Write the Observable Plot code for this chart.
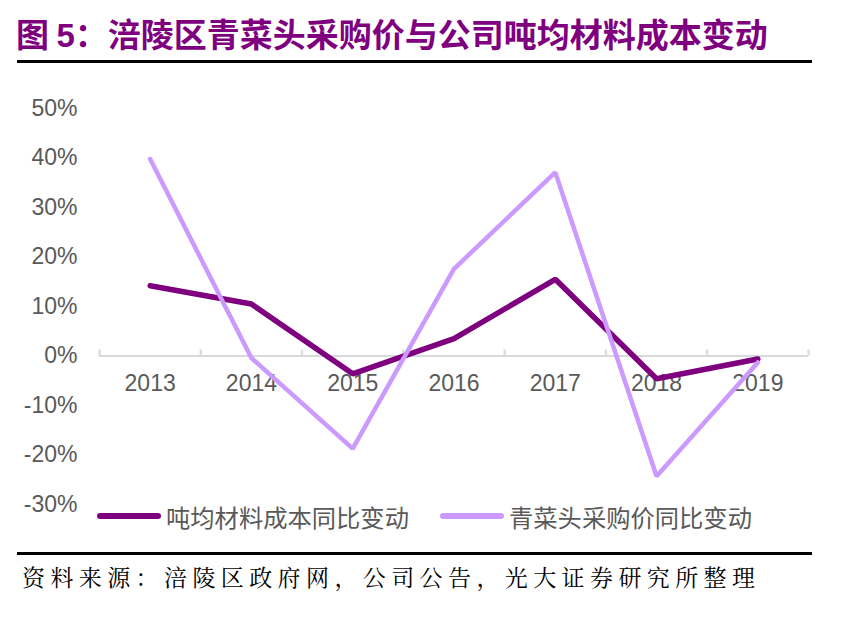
<!DOCTYPE html>
<html>
<head>
<meta charset="utf-8">
<script src="https://cdn.jsdelivr.net/npm/d3@7"></script>
<script src="https://cdn.jsdelivr.net/npm/@observablehq/plot@0.6"></script>
<style>
  html, body { margin: 0; padding: 0; background: #fff; }
  #page { position: relative; width: 841px; height: 617px; overflow: hidden; }
  #title { position: absolute; left: 16px; top: 12px; font-family: "Noto Sans CJK SC", sans-serif; font-weight: 700; font-size: 33px; line-height: 42px; color: #7F007F; white-space: nowrap; }
  #title .num { font-family: "Liberation Sans", Arial, sans-serif; font-weight: 700; }
  .hr { position: absolute; left: 17px; width: 795px; height: 2.5px; background: #000; }
  #chart { position: absolute; left: 0; top: 70px; }
  #legend { position: absolute; left: 0; top: 501px; width: 841px; height: 30px; font-family: "Noto Sans CJK SC", sans-serif; font-size: 24.3px; color: #595959; }
  .item { position: absolute; top: 0; height: 30px; display: flex; align-items: center; white-space: nowrap; }
  .sw { display: inline-block; width: 64px; height: 6px; border-radius: 3px; margin-right: 5px; }
  #caption { position: absolute; left: 22px; top: 562px; font-family: "Noto Serif CJK SC", "Noto Sans CJK SC", serif; font-size: 23px; letter-spacing: 5.4px; color: #000; white-space: nowrap; line-height: 30px; }
</style>
</head>
<body>
<div id="page">
  <div id="title">图 <span class="num">5</span>：涪陵区青菜头采购价与公司吨均材料成本变动</div>
  <div class="hr" style="top:60px"></div>
  <div id="chart"></div>
  <div id="legend"></div>
  <div class="hr" style="top:552px"></div>
  <div id="caption">资料来源：涪陵区政府网，公司公告，光大证券研究所整理</div>
</div>
<script>
// Data
const years = ["2013", "2014", "2015", "2016", "2017", "2018", "2019"];
const costChange = [14.2, 10.5, -3.6, 3.5, 15.5, -4.6, -0.6];      // 吨均材料成本同比变动 (%)
const priceChange = [39.8, -0.4, -18.7, 17.6, 37.1, -24.3, -1.3];  // 青菜头采购价同比变动 (%)
const yTicks = [-30, -20, -10, 0, 10, 20, 30, 40, 50];
const seriesNames = ["吨均材料成本同比变动", "青菜头采购价同比变动"];
const seriesColors = ["#7F007F", "#CC99FF"];

const idx = years.map((_, i) => i);
const bounds = d3.range(years.length + 1).map(i => i - 0.5);

const plot = Plot.plot({
  width: 841,
  height: 470,
  marginLeft: 99,
  marginRight: 33,
  marginTop: 38,
  marginBottom: 36,
  style: { fontFamily: "'Liberation Sans', Arial, sans-serif", color: "#595959", background: "transparent", overflow: "visible" },
  x: { type: "linear", domain: [-0.5, years.length - 0.5], axis: null },
  y: { domain: [-30, 50], axis: null },
  marks: [
    Plot.axisY({ ticks: yTicks, tickFormat: d => d + "%", tickSize: 0, tickPadding: 22, fontSize: 23, fill: "#595959" }),
    Plot.ruleY([0], { stroke: "#D9D9D9", strokeWidth: 2.2 }),
    Plot.ruleX(bounds, { x: d => d, y1: 0, y2: 1.2, stroke: "#D9D9D9", strokeWidth: 2.2 }),
    Plot.text(years, { x: (d, i) => i, y: 0, dy: 28, text: d => d, fontSize: 23, fill: "#595959" }),
    Plot.line(idx, { x: i => i, y: i => costChange[i], stroke: seriesColors[0], strokeWidth: 5.5, strokeLinejoin: "miter", strokeLinecap: "round" }),
    Plot.line(idx, { x: i => i, y: i => priceChange[i], stroke: seriesColors[1], strokeWidth: 4.5, strokeLinejoin: "miter", strokeLinecap: "round" })
  ]
});
document.getElementById("chart").appendChild(plot);

// Legend
const legend = document.getElementById("legend");
const lefts = [97, 440];
seriesNames.forEach((name, k) => {
  const item = document.createElement("div");
  item.className = "item";
  item.style.left = lefts[k] + "px";
  const sw = document.createElement("span");
  sw.className = "sw";
  sw.style.background = seriesColors[k];
  const t = document.createElement("span");
  t.textContent = name;
  item.appendChild(sw);
  item.appendChild(t);
  legend.appendChild(item);
});
</script>
</body>
</html>
